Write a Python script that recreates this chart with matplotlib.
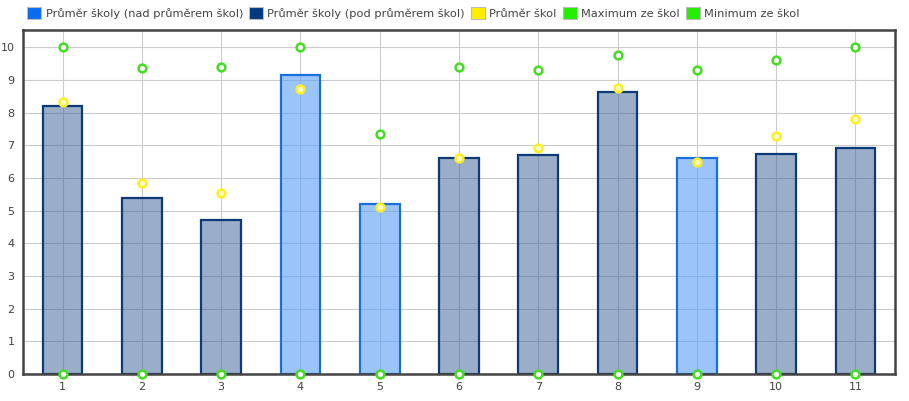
import matplotlib
matplotlib.use("Agg")
import matplotlib.pyplot as plt
from matplotlib.patches import Patch
import numpy as np

categories = ["1", "2", "3", "4", "5", "6", "7", "8", "9", "10", "11"]
school_avg = [8.20, 5.40, 4.71, 9.15, 5.21, 6.61, 6.70, 8.64, 6.62, 6.72, 6.93]
schools_avg = [8.34, 5.85, 5.54, 8.72, 5.12, 6.61, 6.93, 8.76, 6.50, 7.28, 7.81]
schools_max = [10.0, 9.37, 9.40, 10.0, 7.36, 9.40, 9.31, 9.76, 9.31, 9.60, 10.0]
schools_min = [0, 0, 0, 0, 0, 0, 0, 0, 0, 0, 0]
yticks = [0, 1, 2, 3, 4, 5, 6, 7, 8, 9, 10]

legend_labels = ["Průměr školy (nad průměrem škol)", "Průměr školy (pod průměrem škol)",
                 "Průměr škol", "Maximum ze škol", "Minimum ze škol"]

plt.rcParams['font.family'] = ['DejaVu Sans']

fig = plt.figure(figsize=(9.09, 4.01), dpi=100)
ax = fig.add_axes([23/909, 1 - 374/401, (895 - 23)/909, (374 - 30)/401])

x = np.arange(1, len(categories) + 1)
above = np.array(school_avg) > np.array(schools_avg)

for xi, v, ab in zip(x, school_avg, above):
    if ab:
        fc, ec = (0.40, 0.65, 0.96, 0.65), "#1a6fe0"
    else:
        fc, ec = (0.26, 0.40, 0.60, 0.53), "#0d3a78"
    ax.bar(xi, v, width=0.5, facecolor=fc, edgecolor=ec, linewidth=1.6, zorder=2)

mk = dict(linestyle="none", marker="o", markersize=5.6, markeredgewidth=1.8)
ax.plot(x, schools_avg, markerfacecolor="#ffffcc", markeredgecolor="#ffee22", zorder=4, **mk)
ax.plot(x, schools_max, markerfacecolor="#ffffff", markeredgecolor="#44dd22", zorder=4, **mk)
ax.plot(x, schools_min, markerfacecolor="#ffffff", markeredgecolor="#44dd22", zorder=5,
        clip_on=False, **mk)

ax.set_xlim(0.5, len(categories) + 0.5)
ax.set_ylim(0, 10.53)
ax.set_xticks(x)
ax.set_xticklabels(categories)
ax.set_yticks(yticks)
ax.grid(True, color="#cccccc", linewidth=0.8, zorder=0)
ax.set_axisbelow(True)
ax.tick_params(axis="both", length=0, labelsize=8, colors="#444444")
ax.tick_params(axis="x", pad=6)
ax.tick_params(axis="y", pad=6)
for s in ax.spines.values():
    s.set_color("#444444")
    s.set_linewidth(1.8)

handles = [
    Patch(facecolor="#0a6cf0", edgecolor="#bbbbbb", linewidth=0.8),
    Patch(facecolor="#003a80", edgecolor="#bbbbbb", linewidth=0.8),
    Patch(facecolor="#ffee00", edgecolor="#bbbbbb", linewidth=0.8),
    Patch(facecolor="#22ee00", edgecolor="#bbbbbb", linewidth=0.8),
    Patch(facecolor="#22ee00", edgecolor="#bbbbbb", linewidth=0.8),
]
fig.legend(handles, legend_labels, loc="upper left", bbox_to_anchor=(20/909, 1.0),
           ncol=5, frameon=False, fontsize=8.2, handlelength=1.2, handleheight=1.2,
           handletextpad=0.4, columnspacing=0.55, labelcolor="#444444",
           borderaxespad=0.25)

fig.savefig("out.png", dpi=100)
